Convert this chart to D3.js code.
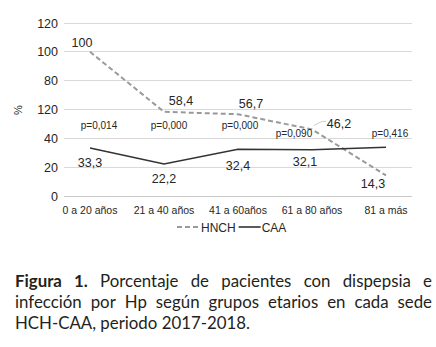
<!DOCTYPE html>
<html><head><meta charset="utf-8">
<script src="https://cdn.jsdelivr.net/npm/d3@7"></script>
<style>html,body{margin:0;padding:0;background:#fff;}</style>
</head><body>
<svg id="c" width="436" height="347"></svg>
<script>
const categories = ["0 a 20 años","21 a 40 años","41 a 60años","61 a 80 años","81 a más"];
const hnch = [100, 58.4, 56.7, 46.2, 14.3];
const caa = [33.3, 22.2, 32.4, 32.1, 33.8];
const hnchLabels = ["100","58,4","56,7","46,2","14,3"];
const caaLabels = ["33,3","22,2","32,4","32,1",""];
const pValues = ["p=0,014","p=0,000","p=0,000","p=0,090","p=0,416"];
const yTicks = [0,20,40,60,80,100,120];
const yTickLabels = ["0","20","40","120","80","100","120"];
const seriesNames = ["HNCH","CAA"];

const svg = d3.select("#c");
const narrow = "'Liberation Sans Narrow','Arial Narrow',sans-serif";
const probe = svg.append("text").attr("font-family","'Liberation Sans Narrow'").attr("font-size",20).text("HNCH 0000");
const probe2 = svg.append("text").attr("font-family","'Liberation Sans'").attr("font-size",20).text("HNCH 0000");
const hasNarrow = probe.node().getComputedTextLength() < probe2.node().getComputedTextLength()*0.95;
probe.remove(); probe2.remove();
const sx = hasNarrow ? 1 : 0.82;
const txtColor = "#262626";

const y = d3.scaleLinear().domain([0,120]).range([196,23]);
const x = d3.scalePoint().domain(categories).range([90,386]);
const gridX0 = 64, gridX1 = 412;

function ntext(g, xx, yy, s, size, anchor){
  return g.append("text").attr("font-family", narrow).attr("font-size", size)
    .attr("fill", txtColor).attr("text-anchor", anchor||"middle")
    .attr("transform", `translate(${xx},${yy}) scale(${sx},1)`).text(s);
}

const grid = svg.append("g");
yTicks.forEach(v=>{
  grid.append("line").attr("x1",gridX0).attr("x2",gridX1).attr("y1",y(v)).attr("y2",y(v))
    .attr("stroke", v===0 ? "#c8c8c8" : "#d9d9d9").attr("stroke-width",1).attr("shape-rendering","crispEdges");
});
const yAx = svg.append("g");
yTicks.forEach((v,i)=> ntext(yAx, 58, y(v)+4.5, yTickLabels[i], 12.5, "end"));
ntext(yAx, 0, 0, "%", 11, "middle").attr("transform", `translate(22,110) rotate(-90) scale(${sx},1)`);

const xAx = svg.append("g");
categories.forEach(c=> ntext(xAx, x(c), 214, c, 10.5, "middle"));

const line = d3.line().x((d,i)=>x(categories[i])).y(d=>y(d));
svg.append("path").datum(hnch).attr("d", line).attr("fill","none").attr("stroke","#9a9a9a")
  .attr("stroke-width",2).attr("stroke-dasharray","5,3");
svg.append("path").datum(caa).attr("d", line).attr("fill","none").attr("stroke","#333")
  .attr("stroke-width",1.6);

const hOff = [[-8,-5],[17,-7],[13,-6],[27,-1.5],[-13,13]];
const cOff = [[0,19],[0,19],[0,21],[-7,16],[0,0]];
const lab = svg.append("g");
hnch.forEach((v,i)=> ntext(lab, x(categories[i])+hOff[i][0], y(v)+hOff[i][1], hnchLabels[i], 12.5));
caa.forEach((v,i)=> { if(caaLabels[i]) ntext(lab, x(categories[i])+cOff[i][0], y(v)+cOff[i][1], caaLabels[i], 12.5); });
const lx = x(categories[3]), ly = y(hnch[3]);
svg.append("path").attr("d", `M${lx+2},${ly-4} L${lx+10},${ly-8} L${lx+14},${ly-8}`).attr("fill","none").attr("stroke","#d0d0d0").attr("stroke-width",1);
const pOff = [[9,129],[5,129],[2,129],[-18,137],[4,137]];
pValues.forEach((p,i)=> ntext(lab, x(categories[i])+pOff[i][0], pOff[i][1], p, 10));

const lg = svg.append("g");
lg.append("line").attr("x1",177).attr("x2",200).attr("y1",227).attr("y2",227).attr("stroke","#9a9a9a").attr("stroke-width",2).attr("stroke-dasharray","5,3");
const hn = ntext(lg, 201, 231.5, seriesNames[0], 12, "start");
const hnEnd = 201 + hn.node().getComputedTextLength()*sx;
lg.append("line").attr("x1",hnEnd+3).attr("x2",hnEnd+25).attr("y1",227).attr("y2",227).attr("stroke","#333").attr("stroke-width",1.6);
ntext(lg, hnEnd+26, 231.5, seriesNames[1], 12, "start");

const capFont = "Lato, 'Open Sans', sans-serif";
const capLines = [
  [{t:"Figura",b:true},{t:"1.",b:true},{t:"Porcentaje"},{t:"de"},{t:"pacientes"},{t:"con"},{t:"dispepsia"},{t:"e"}],
  [{t:"infección"},{t:"por"},{t:"Hp"},{t:"según"},{t:"grupos"},{t:"etarios"},{t:"en"},{t:"cada"},{t:"sede"}],
  [{t:"HCH-CAA,"},{t:"periodo"},{t:"2017-2018."}]
];
const capBase = [287, 308, 329];
const capX0 = 15, capX1 = 432;
const capColor = "#231f20";
function measure(s, size, bold){
  const t = svg.append("text").attr("font-family",capFont).attr("font-size",size).attr("font-weight",bold?700:400).text(s);
  const w = t.node().getComputedTextLength(); t.remove(); return w;
}
let fs = 15;
const w3 = measure("HCH-CAA, periodo 2017-2018.", fs, false);
fs = fs * 235 / w3;
const cap = svg.append("g");
capLines.forEach((words,li)=>{
  const widths = words.map(w=>measure(w.t, fs, w.b));
  const total = d3.sum(widths);
  const spaceW = measure("a a", fs, false) - 2*measure("a", fs, false);
  const gap = li < 2 ? (capX1-capX0-total)/(words.length-1) : spaceW;
  let cx = capX0;
  words.forEach((w,i)=>{
    cap.append("text").attr("x",cx).attr("y",capBase[li]).attr("font-family",capFont)
      .attr("font-size",fs).attr("font-weight",w.b?700:400).attr("fill",capColor).text(w.t);
    cx += widths[i] + gap;
  });
});
</script>
</body></html>
